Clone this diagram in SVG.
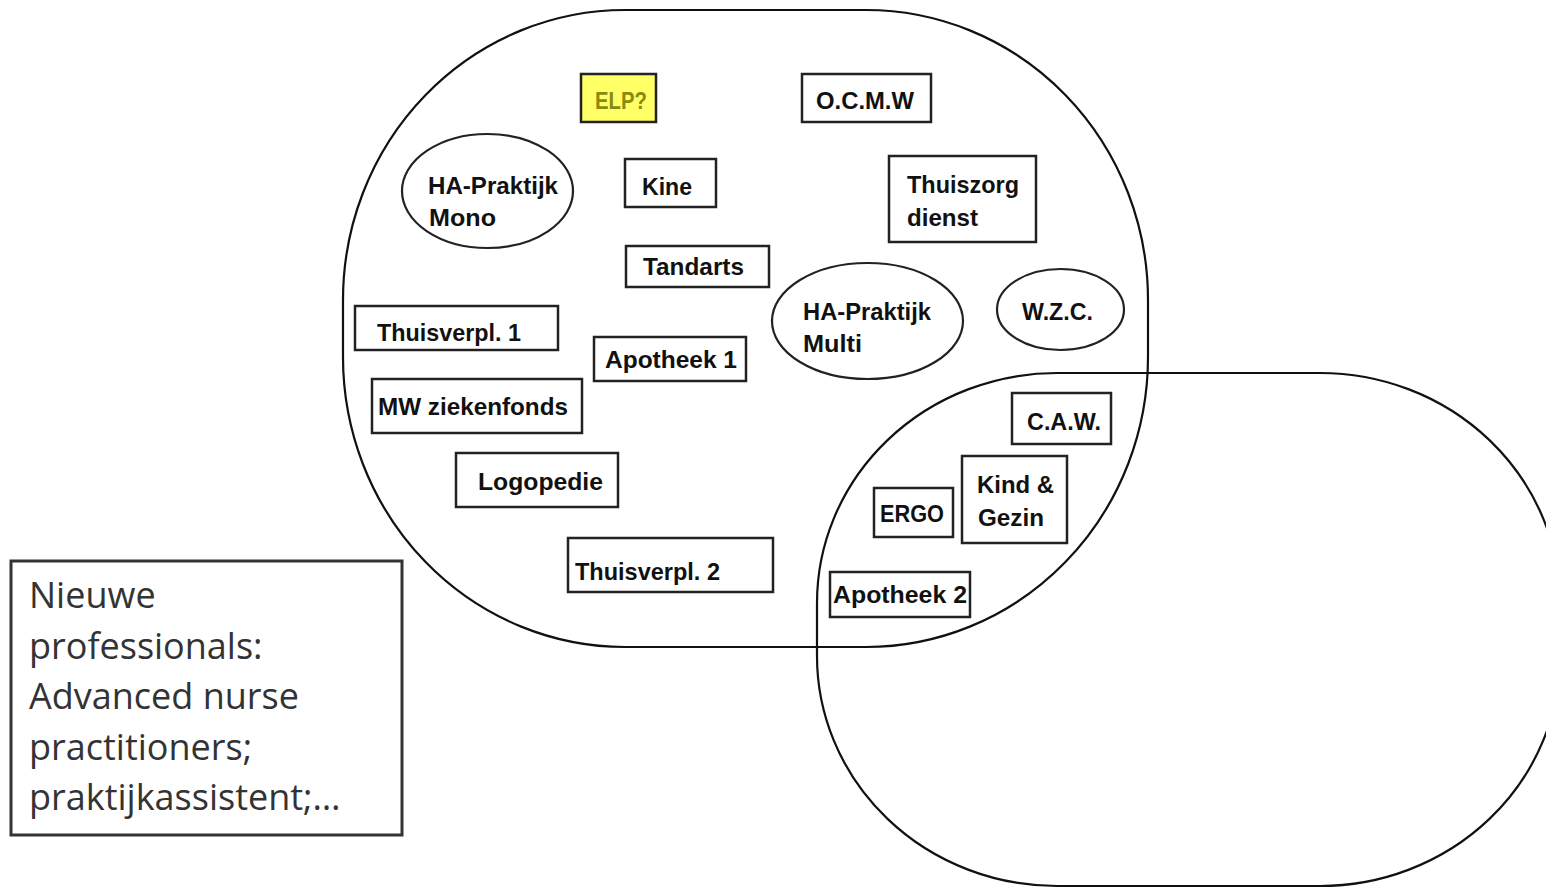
<svg xmlns="http://www.w3.org/2000/svg" width="1546" height="888" viewBox="0 0 1546 888">
<style>
.region{fill:none;stroke:#111;stroke-width:2.2}
.box{fill:#fff;stroke:#222;stroke-width:2.5}
.oval{fill:#fff;stroke:#222;stroke-width:2.2}
.lbl{font-family:"Liberation Sans",Arial,sans-serif;font-weight:bold;font-size:24px;fill:#111}
.note{font-family:"Open Sans","Liberation Sans",sans-serif;font-size:36px;fill:#333}
</style>
<rect width="1546" height="888" fill="#fff"/>
<g id="regions">
<path id="region1" class="region" d="M625 10 H866 A282 290 0 0 1 1148 300 V357 A282 290 0 0 1 866 647 H625 A282 290 0 0 1 343 357 V300 A282 290 0 0 1 625 10 Z"/>
<path id="region2" class="region" d="M1057 373 H1320 A240 230 0 0 1 1560 603 V656 A240 230 0 0 1 1320 886 H1057 A240 230 0 0 1 817 656 V603 A240 230 0 0 1 1057 373 Z"/>
</g>
<g id="connectors"></g>
<g id="elp"><rect class="box" x="581" y="74" width="75" height="48" fill="#ffff66" style="fill:#ffff66"/><text class="lbl" x="595" y="109" textLength="52" lengthAdjust="spacingAndGlyphs" style="fill:#8a8a10">ELP?</text></g>
<g id="ocmw"><rect class="box" x="802" y="74" width="129" height="48"/><text class="lbl" x="816" y="109" textLength="98" lengthAdjust="spacingAndGlyphs">O.C.M.W</text></g>
<g id="ha-mono"><ellipse class="oval" cx="487.5" cy="191" rx="85.5" ry="57"/><text class="lbl" x="428" y="194" textLength="130" lengthAdjust="spacingAndGlyphs">HA-Praktijk</text><text class="lbl" x="429" y="226" textLength="67" lengthAdjust="spacingAndGlyphs">Mono</text></g>
<g id="kine"><rect class="box" x="625" y="159" width="91" height="48"/><text class="lbl" x="642" y="195" textLength="50" lengthAdjust="spacingAndGlyphs">Kine</text></g>
<g id="thuiszorg"><rect class="box" x="889" y="156" width="147" height="86"/><text class="lbl" x="907" y="193" textLength="112" lengthAdjust="spacingAndGlyphs">Thuiszorg</text><text class="lbl" x="907" y="226" textLength="71" lengthAdjust="spacingAndGlyphs">dienst</text></g>
<g id="tandarts"><rect class="box" x="626" y="246" width="143" height="41"/><text class="lbl" x="643" y="275" textLength="101" lengthAdjust="spacingAndGlyphs">Tandarts</text></g>
<g id="ha-multi"><ellipse class="oval" cx="867.5" cy="321" rx="95.5" ry="58"/><text class="lbl" x="803" y="320" textLength="128" lengthAdjust="spacingAndGlyphs">HA-Praktijk</text><text class="lbl" x="803" y="352" textLength="59" lengthAdjust="spacingAndGlyphs">Multi</text></g>
<g id="wzc"><ellipse class="oval" cx="1060.5" cy="309.5" rx="63.5" ry="40.5"/><text class="lbl" x="1022" y="320" textLength="71" lengthAdjust="spacingAndGlyphs">W.Z.C.</text></g>
<g id="thuisverpl1"><rect class="box" x="355" y="306" width="203" height="44"/><text class="lbl" x="377" y="341" textLength="144" lengthAdjust="spacingAndGlyphs">Thuisverpl. 1</text></g>
<g id="apotheek1"><rect class="box" x="594" y="337" width="152" height="44"/><text class="lbl" x="605" y="368" textLength="132" lengthAdjust="spacingAndGlyphs">Apotheek 1</text></g>
<g id="mw"><rect class="box" x="372" y="379" width="210" height="54"/><text class="lbl" x="378" y="415" textLength="190" lengthAdjust="spacingAndGlyphs">MW ziekenfonds</text></g>
<g id="logopedie"><rect class="box" x="456" y="453" width="162" height="54"/><text class="lbl" x="478" y="490" textLength="125" lengthAdjust="spacingAndGlyphs">Logopedie</text></g>
<g id="thuisverpl2"><rect class="box" x="568" y="538" width="205" height="54"/><text class="lbl" x="575" y="580" textLength="145" lengthAdjust="spacingAndGlyphs">Thuisverpl. 2</text></g>
<g id="caw"><rect class="box" x="1012" y="393" width="99" height="51"/><text class="lbl" x="1027" y="430" textLength="74" lengthAdjust="spacingAndGlyphs">C.A.W.</text></g>
<g id="kind-gezin"><rect class="box" x="962" y="456" width="105" height="87"/><text class="lbl" x="977" y="493" textLength="77" lengthAdjust="spacingAndGlyphs">Kind &amp;</text><text class="lbl" x="978" y="526" textLength="66" lengthAdjust="spacingAndGlyphs">Gezin</text></g>
<g id="ergo"><rect class="box" x="874" y="488" width="79" height="49"/><text class="lbl" x="880" y="522" textLength="64" lengthAdjust="spacingAndGlyphs">ERGO</text></g>
<g id="apotheek2"><rect class="box" x="830" y="572" width="140" height="45"/><text class="lbl" x="833" y="603" textLength="134" lengthAdjust="spacingAndGlyphs">Apotheek 2</text></g>
<g id="nieuwe"><rect x="11" y="561" width="391" height="274" fill="#fff" stroke="#333" stroke-width="3"/>
<text class="note" x="29" y="608">Nieuwe</text>
<text class="note" x="29" y="659">professionals:</text>
<text class="note" x="29" y="709">Advanced nurse</text>
<text class="note" x="29" y="760">practitioners;</text>
<text class="note" x="29" y="810">praktijkassistent;…</text>
</g>
</svg>
